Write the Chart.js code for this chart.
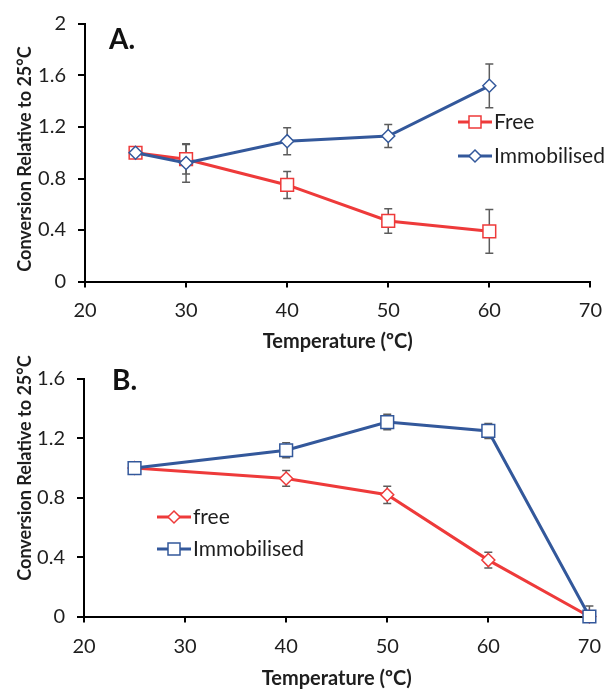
<!DOCTYPE html>
<html><head><meta charset="utf-8">
<script src="https://cdn.jsdelivr.net/npm/chart.js@4/dist/chart.umd.min.js"></script>
<style>
html,body{margin:0;padding:0;background:#fff;}
body{width:613px;height:691px;position:relative;overflow:hidden;}
canvas{position:absolute;left:0;}
#cA{top:0;}
#cB{top:355px;}
</style></head>
<body>
<canvas id="cA" width="613" height="355"></canvas>
<canvas id="cB" width="613" height="336"></canvas>
<script>
// ---- Data ----
const tempA = [25, 30, 40, 50, 60];
const freeA = [1.00, 0.95, 0.75, 0.47, 0.39];
const freeAErr = [0, 0.115, 0.105, 0.095, 0.17];
const immA = [1.00, 0.92, 1.09, 1.13, 1.52];
const immAErr = [0, 0.15, 0.105, 0.09, 0.17];

const tempB = [25, 40, 50, 60, 70];
const freeB = [1.00, 0.93, 0.82, 0.38, 0.00];
const freeBErr = [0, 0.053, 0.058, 0.053, 0];
const immB = [1.00, 1.12, 1.31, 1.25, 0.00];
const immBErr = [0, 0.05, 0.052, 0.05, 0.07];

const xTicks = [20, 30, 40, 50, 60, 70];
const yTicksA = [0, 0.4, 0.8, 1.2, 1.6, 2];
const yTicksB = [0, 0.4, 0.8, 1.2, 1.6];

const legendA = ['Free', 'Immobilised'];
const legendB = ['free', 'Immobilised'];
const xTitle = 'Temperature (ºC)';
const yTitle = 'Conversion Relative to 25°C';

const RED = '#ee3a3a';
const BLUE = '#33589b';
const FONT = 'Lato, "Open Sans", sans-serif';
const TXT = '#1e1e1e';

function pts(xs, ys) { return xs.map((x, i) => ({x: x, y: ys[i]})); }

const errorBars = {
  id: 'errorBars',
  beforeDatasetsDraw(chart, args, opts) {
    const ctx = chart.ctx, xs = chart.scales.x, ys = chart.scales.y, a = chart.chartArea;
    ctx.save();
    ctx.beginPath();
    ctx.rect(a.left - 10, a.top - 10, a.right - a.left + 20, a.bottom - a.top + 10);
    ctx.clip();
    ctx.strokeStyle = '#5c5c5c';
    ctx.lineWidth = 1.5;
    chart.data.datasets.forEach(ds => {
      ds.data.forEach((p, i) => {
        const e = ds.err[i];
        if (!e) return;
        const x = xs.getPixelForValue(p.x);
        const y1 = ys.getPixelForValue(p.y + e), y2 = ys.getPixelForValue(p.y - e);
        ctx.beginPath();
        ctx.moveTo(x, y1); ctx.lineTo(x, y2);
        ctx.moveTo(x - 4, y1); ctx.lineTo(x + 4, y1);
        ctx.moveTo(x - 4, y2); ctx.lineTo(x + 4, y2);
        ctx.stroke();
      });
    });
    ctx.restore();
  }
};

const annotations = {
  id: 'annotations',
  afterDraw(chart, args, o) {
    const ctx = chart.ctx;
    ctx.save();
    ctx.fillStyle = '#111';
    ctx.font = 'bold 28px ' + FONT;
    ctx.textBaseline = 'middle';
    ctx.textAlign = 'left';
    ctx.fillText(o.letter, o.letterX, o.letterY);
    ctx.save();
    ctx.translate(o.yTitleX, o.yTitleY);
    ctx.rotate(-Math.PI / 2);
    ctx.textAlign = 'center';
    ctx.font = 'bold 18px ' + FONT;
    ctx.fillStyle = TXT;
    ctx.fillText(yTitle, 0, 0);
    ctx.restore();
    o.legend.forEach((item, i) => {
      const y = o.legY[i];
      ctx.strokeStyle = item.color;
      ctx.lineWidth = 3;
      ctx.beginPath();
      ctx.moveTo(o.legX1, y); ctx.lineTo(o.legX2, y);
      ctx.stroke();
      const mx = (o.legX1 + o.legX2) / 2;
      ctx.fillStyle = '#fff';
      ctx.lineWidth = 1.5;
      ctx.beginPath();
      if (item.style === 'rect') {
        ctx.rect(mx - 6, y - 6, 12, 12);
      } else {
        ctx.moveTo(mx, y - 6); ctx.lineTo(mx + 6, y); ctx.lineTo(mx, y + 6); ctx.lineTo(mx - 6, y); ctx.closePath();
      }
      ctx.fill(); ctx.stroke();
      ctx.fillStyle = TXT;
      ctx.font = '21px ' + FONT;
      ctx.textAlign = 'left';
      ctx.fillText(item.text, o.legX2 + 2, y);
    });
    ctx.restore();
  }
};

function makeScales(yTicks, yMax, xH, yW, xPad, titlePad) {
  return {
    x: {
      type: 'linear', min: 20, max: 70,
      afterBuildTicks: s => { s.ticks = xTicks.map(v => ({value: v})); },
      afterFit: s => { s.height = xH; },
      grid: {drawOnChartArea: false, drawTicks: true, tickLength: 6, color: '#000', lineWidth: 2},
      border: {display: true, color: '#000', width: 2},
      ticks: {color: TXT, font: {family: FONT, size: 20}, padding: xPad, maxRotation: 0, callback: v => String(v)},
      title: {display: true, text: xTitle, color: TXT, font: {family: FONT, size: 20, weight: 'bold'}, padding: {top: 0, bottom: titlePad}}
    },
    y: {
      type: 'linear', min: 0, max: yMax,
      afterBuildTicks: s => { s.ticks = yTicks.map(v => ({value: v})); },
      afterFit: s => { s.width = yW; },
      grid: {drawOnChartArea: false, drawTicks: true, tickLength: 7, color: '#000', lineWidth: 2},
      border: {display: true, color: '#000', width: 2},
      ticks: {color: TXT, font: {family: FONT, size: 20}, padding: 12, callback: v => String(v)}
    }
  };
}

function ds(label, xs, ys, err, color, style, radius) {
  return {
    label: label, data: pts(xs, ys), err: err, clip: false,
    borderColor: color, borderWidth: 3,
    pointStyle: style, pointRadius: radius, pointHoverRadius: radius,
    pointBackgroundColor: '#fff', pointBorderColor: color, pointBorderWidth: 1.5,
    tension: 0, fill: false
  };
}

new Chart(document.getElementById('cA'), {
  type: 'line',
  data: {datasets: [
    ds(legendA[1], tempA, immA, immAErr, BLUE, 'rectRot', 6.5),
    ds(legendA[0], tempA, freeA, freeAErr, RED, 'rect', 9)
  ]},
  options: {
    responsive: false, animation: false,
    layout: {padding: {top: 19, right: 20, left: 0, bottom: 0}},
    scales: makeScales(yTicksA, 2, 73.5, 85, 11, 1),
    plugins: {
      legend: {display: false}, tooltip: {enabled: false},
      annotations: {
        letter: 'A.', letterX: 109, letterY: 40, yTitleX: 25, yTitleY: 159,
        legX1: 458, legX2: 492, legY: [122, 156],
        legend: [{text: legendA[0], color: RED, style: 'rect'}, {text: legendA[1], color: BLUE, style: 'rectRot'}]
      }
    }
  },
  plugins: [errorBars, annotations]
});

new Chart(document.getElementById('cB'), {
  type: 'line',
  data: {datasets: [
    ds(legendB[1], tempB, immB, immBErr, BLUE, 'rect', 9),
    ds(legendB[0], tempB, freeB, freeBErr, RED, 'rectRot', 6.5)
  ]},
  options: {
    responsive: false, animation: false,
    layout: {padding: {top: 11.7, right: 16, left: 0, bottom: 0}},
    scales: makeScales(yTicksB, 1.6, 74.5, 84, 12, 0),
    plugins: {
      legend: {display: false}, tooltip: {enabled: false},
      annotations: {
        letter: 'B.', letterX: 112, letterY: 26, yTitleX: 25, yTitleY: 113,
        legX1: 157, legX2: 191, legY: [162, 194],
        legend: [{text: legendB[0], color: RED, style: 'rectRot'}, {text: legendB[1], color: BLUE, style: 'rect'}]
      }
    }
  },
  plugins: [errorBars, annotations]
});
</script>
</body></html>
